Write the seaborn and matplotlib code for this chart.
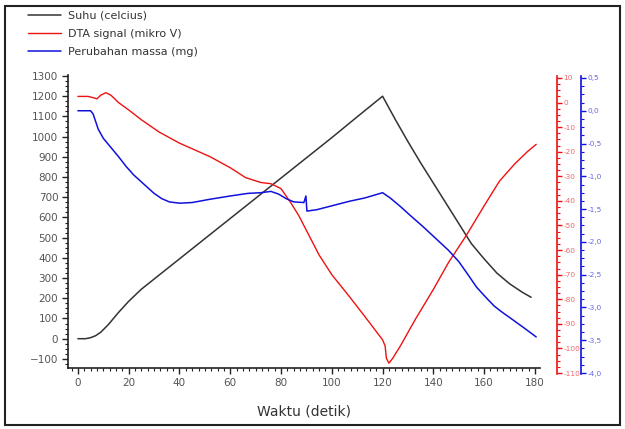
import matplotlib
matplotlib.use("Agg")
import matplotlib.pyplot as plt
import seaborn as sns
import pandas as pd
from matplotlib.lines import Line2D
from matplotlib.patches import Rectangle
from matplotlib.ticker import MultipleLocator, FuncFormatter

# ---------------- data ----------------
t_suhu = [0, 3, 5, 7, 9, 12, 16, 20, 25, 30, 40, 50, 60, 70, 80, 90, 100, 110, 120,
          125, 130, 135, 140, 145, 150, 155, 160, 165, 170, 175, 178.5]
suhu = [0, 0, 5, 15, 32, 70, 130, 185, 245, 295, 395, 495, 595, 695, 795, 895, 995, 1098, 1200,
        1085, 975, 870, 770, 670, 570, 470, 395, 325, 272, 230, 205]

t_dta = [0, 4, 6, 7.5, 9, 11, 13, 16, 20, 25, 32, 40, 52, 60, 66, 72, 76, 80, 84, 87, 90,
         95, 100, 107, 113, 120, 121, 121.5, 122.5, 124, 127, 133, 140, 146, 153, 160, 166,
         172, 177, 180.5]
dta = [2.5, 2.5, 2, 1.5, 3, 4, 3, 0, -3, -7, -12, -16.5, -22, -26.5, -30.5, -32.5, -33,
       -35, -41, -46, -52, -62, -70, -79, -87, -96.5, -99, -104, -106, -104, -99, -88, -76,
       -65, -54, -42, -32, -25, -20, -17]

t_massa = [0, 5, 6, 8, 10, 13, 16, 19, 22, 26, 30, 33, 36, 40, 45, 52, 60, 67, 72, 76, 79,
           82, 85, 89, 89.8, 90.2, 94, 100, 107, 113, 120, 123, 127, 131, 136, 141, 146, 150,
           154, 157, 161, 164, 167, 171, 176, 180.5]
massa = [0.0, 0.0, -0.05, -0.28, -0.42, -0.56, -0.7, -0.85, -0.98, -1.12, -1.26, -1.34,
         -1.39, -1.41, -1.40, -1.35, -1.30, -1.26, -1.25, -1.23, -1.27, -1.34, -1.39, -1.40,
         -1.30, -1.53, -1.51, -1.45, -1.38, -1.33, -1.25, -1.33, -1.46, -1.60, -1.77, -1.95,
         -2.13, -2.30, -2.52, -2.69, -2.86, -2.98, -3.07, -3.18, -3.32, -3.45]

labels = ["Suhu (celcius)", "DTA signal (mikro V)", "Perubahan massa (mg)"]
x_label = "Waktu (detik)"

# ---------------- style ----------------
sns.set_style("ticks")
plt.rcParams["font.family"] = ["DejaVu Sans"]

C_BLACK = "#333333"
C_RED = "#ee1111"
C_BLUE = "#1111dd"

W, H = 625, 429
fig = plt.figure(figsize=(W / 100, H / 100), dpi=100)


def box(l, t, r, b):
    return [l / W, 1 - b / H, (r - l) / W, (b - t) / H]


ax = fig.add_axes(box(68, 75, 540, 368))
axr = fig.add_axes(box(68, 76, 540, 374))
axb = fig.add_axes(box(68, 76, 540, 374))
for a in (axr, axb):
    a.patch.set_visible(False)

df_s = pd.DataFrame({"t": t_suhu, "v": suhu})
df_d = pd.DataFrame({"t": t_dta, "v": dta})
df_m = pd.DataFrame({"t": t_massa, "v": massa})

sns.lineplot(data=df_s, x="t", y="v", ax=ax, color=C_BLACK, lw=1.1, sort=False, legend=False)
sns.lineplot(data=df_d, x="t", y="v", ax=axr, color=C_RED, lw=1.0, sort=False, legend=False)
sns.lineplot(data=df_m, x="t", y="v", ax=axb, color=C_BLUE, lw=1.1, sort=False, legend=False)

XL = (-3.9, 182)
for a in (ax, axr, axb):
    a.set_xlim(*XL)
    a.set_xlabel("")
    a.set_ylabel("")

# main axes
ax.set_ylim(-145, 1305)
ax.spines["top"].set_visible(False)
ax.spines["right"].set_visible(False)
for s in ("left", "bottom"):
    ax.spines[s].set_color("#222222")
    ax.spines[s].set_linewidth(1.2)
ax.xaxis.set_major_locator(MultipleLocator(20))
ax.xaxis.set_minor_locator(MultipleLocator(2.5))
ax.yaxis.set_major_locator(MultipleLocator(100))
ax.yaxis.set_minor_locator(MultipleLocator(25))
ax.tick_params(which="major", length=4, width=1, color="#222222", labelsize=7.5,
               labelcolor="#555555", pad=3)
ax.tick_params(which="minor", length=2.2, width=0.8, color="#222222")
ax.set_xticks([0, 20, 40, 60, 80, 100, 120, 140, 160, 180])
ax.set_xlabel(x_label, fontsize=10, color="#333333", labelpad=12)


def right_axis(a, color, labcolor, pos, ylim, major, minor, fmt):
    for s in ("top", "bottom", "left"):
        a.spines[s].set_visible(False)
    a.spines["right"].set_position(("axes", pos))
    a.spines["right"].set_color(color)
    a.spines["right"].set_linewidth(1.2)
    a.xaxis.set_visible(False)
    a.yaxis.tick_right()
    a.set_ylim(*ylim)
    a.yaxis.set_major_locator(MultipleLocator(major))
    a.yaxis.set_minor_locator(MultipleLocator(minor))
    a.yaxis.set_major_formatter(FuncFormatter(fmt))
    a.tick_params(axis="y", which="major", length=3.5, width=1, color=color,
                  labelsize=5.3, labelcolor=labcolor, pad=1)
    a.tick_params(axis="y", which="minor", length=2.0, width=0.8, color=color)


right_axis(axr, C_RED, "#ee6666", 1 + 17 / 472, (-110.4, 10.8), 10, 2.5,
           lambda v, p: f"{v:.0f}")
right_axis(axb, C_BLUE, "#6666dd", 1 + 41 / 472, (-4.015, 0.53), 0.5, 0.125,
           lambda v, p: f"{v:.1f}".replace(".", ",").replace("-0,0", "0,0"))

# legend
handles = [Line2D([], [], color=C_BLACK, lw=1.1),
           Line2D([], [], color=C_RED, lw=1.0),
           Line2D([], [], color=C_BLUE, lw=1.1)]
fig.legend(handles, labels, loc="upper left", bbox_to_anchor=(28 / W, 1 - 11 / H),
           bbox_transform=fig.transFigure, frameon=False, fontsize=8,
           handlelength=3.0, handletextpad=0.6, labelspacing=0.72, borderaxespad=0,
           borderpad=0, labelcolor="#333333")

# outer frame
fig.add_artist(Rectangle((5 / W, 4 / H), 615 / W, 419 / H, transform=fig.transFigure,
                         fill=False, lw=1.5, ec="#222222"))

fig.savefig("out.png", dpi=100)
